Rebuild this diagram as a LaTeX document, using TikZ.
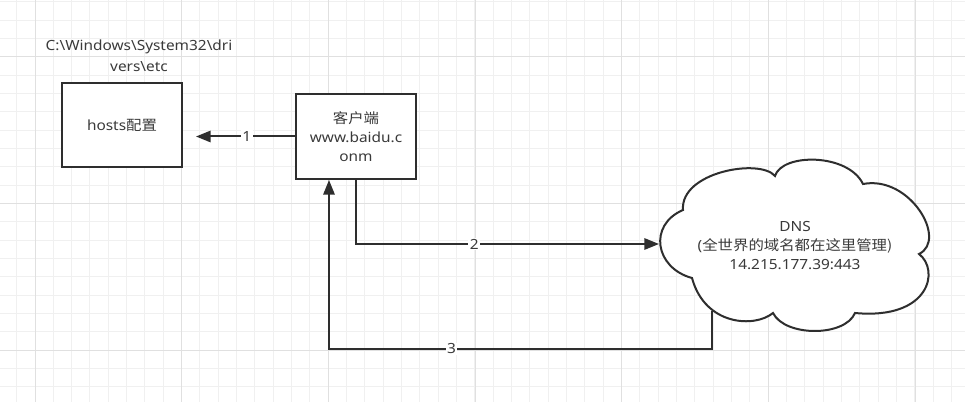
\documentclass[tikz,border=0pt]{standalone}
\usepackage{fontspec}
\setmainfont[FakeStretch=1.1]{Noto Sans}
\newfontfamily\cjk[FakeStretch=1.1]{Noto Sans CJK SC}
\usetikzlibrary{arrows.meta}
\definecolor{ink}{HTML}{2E2E2E}
\definecolor{txtc}{HTML}{3A3A3A}
\definecolor{gminor}{HTML}{F0F0F0}
\definecolor{gmajor}{HTML}{E0E0E0}
\begin{document}
\begin{tikzpicture}[x=0.75pt,y=-0.75pt,
  box/.style={draw=ink, line width=1.5pt, fill=white, inner sep=0pt,
    text=txtc, align=center, font=\fontsize{10.5pt}{14.25pt}\selectfont},
  txt/.style={text=txtc, align=center, inner sep=0pt, font=\fontsize{10.5pt}{14.25pt}\selectfont},
  arr/.style={draw=ink, line width=1.5pt, -{Triangle[length=11pt,width=8.5pt]}},
  lbl/.style={fill=white, text=txtc, inner sep=1pt, font=\fontsize{10.5pt}{12pt}\selectfont}]
\useasboundingbox (0,0) rectangle (965,402);
\fill[white] (0,0) rectangle (965,402);
% grid
\foreach \i in {0,...,51} \draw[gminor, line width=0.75pt] ({16.667+18.333*\i},0) -- ({16.667+18.333*\i},402);
\foreach \j in {0,...,21} \draw[gminor, line width=0.75pt] (0,{2+18.333*\j}) -- (965,{2+18.333*\j});
\foreach \i in {0,...,6} \draw[gmajor, line width=0.75pt] ({35+146.667*\i},0) -- ({35+146.667*\i},402);
\foreach \j in {0,...,2} \draw[gmajor, line width=0.75pt] (0,{57+146.667*\j}) -- (965,{57+146.667*\j});

% path label
\node[txt, font=\fontsize{10.5pt}{15.5pt}\selectfont] (path) at (139,55.5)
  {C:\textbackslash Windows\textbackslash System32\textbackslash dri\\vers\textbackslash etc};

% boxes
\node[box, minimum width=90pt, minimum height=63pt] (hosts) at (122,125) {hosts\cjk{配置}};
\node[box, minimum width=90pt, minimum height=63.75pt] (client) at (356,136.5)
  {\cjk{客户端}\\www.baidu.c\\onm};

% cloud
\draw[ink, line width=1.5pt, fill=white]
  (683,210) .. controls (680,172) and (760,158) .. (775,176)
  .. controls (782,153) and (848,153) .. (863,184)
  .. controls (910,175) and (948,240) .. (919,254)
  .. controls (940,270) and (930,320) .. (855,313)
  .. controls (845,337) and (785,337) .. (773,313)
  .. controls (755,328) and (705,326) .. (692,278)
  .. controls (655,268) and (648,225) .. (683,210) -- cycle;
\coordinate (dnsW) at (659,244);
\coordinate (dnsB) at (712,311);
\node[txt] (dns) at (795,246)
  {DNS\\(\cjk{全世界的域名都在这里管理})\\14.215.177.39:443};

% connectors
\draw[arr, shorten >=9.75pt] (client.west) -- node[lbl, pos=0.43] (l1) {1} (client.west -| hosts.east);
\draw[arr] (client.south) -- (client.south |- dnsW) -- node[lbl, pos=0.39] (l2) {2} (dnsW);
\coordinate (k3) at (329,349);
\draw[arr] (dnsB) -- (dnsB |- k3) -- node[lbl, pos=0.68] (l3) {3} (k3) -- (k3 |- client.south);
\end{tikzpicture}
\end{document}
